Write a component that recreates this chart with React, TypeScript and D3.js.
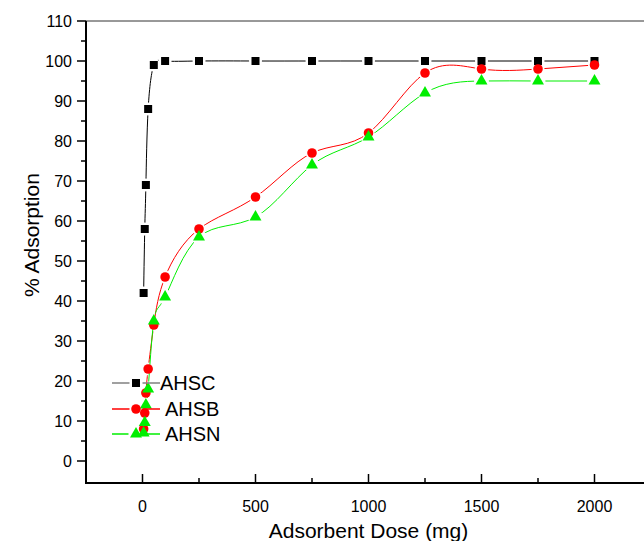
import React from 'react';
import * as d3 from 'd3';

// adsorbent dose (mg) and % adsorption for the three adsorbents
const doses = [5, 10, 15, 25, 50, 100, 250, 500, 750, 1000, 1250, 1500, 1750, 2000];
const ahsc = [42, 58, 69, 88, 99, 100, 100, 100, 100, 100, 100, 100, 100, 100];
const ahsb = [8, 12, 17, 23, 34, 46, 58, 66, 77, 82, 97, 98, 98, 99];
const ahsn = [7, 9.6, 14, 18, 35, 41, 56, 61, 74, 81, 92, 95, 95, 95];

const xMajor = [0, 500, 1000, 1500, 2000];
const xMinor = [250, 750, 1250, 1750];
const yMajor = [0, 10, 20, 30, 40, 50, 60, 70, 80, 90, 100, 110];
const yMinor = [5, 15, 25, 35, 45, 55, 65, 75, 85, 95, 105];

const W = 644;
const H = 541;
const font = 'Arial, "Liberation Sans", Helvetica, sans-serif';

const series = [
  { name: 'AHSC', values: ahsc, color: '#000000', legendLine: '#808080', symbol: d3.symbolSquare, size: 64, gap: 6.5, textX: 160 },
  { name: 'AHSB', values: ahsb, color: '#ff0000', legendLine: '#ff0000', symbol: d3.symbolCircle, size: 72, gap: 6.5, textX: 165 },
  { name: 'AHSN', values: ahsn, color: '#00ee00', legendLine: '#00ee00', symbol: d3.symbolTriangle, size: 62, gap: 7.5, textX: 165 },
];

export default function App() {
  const x = d3.scaleLinear().domain([-250, 2250]).range([86, 651]);
  const y = d3.scaleLinear().domain([-5.5, 110]).range([483, 21]);
  const [x0, x1] = x.range();
  const [yb, yt] = y.range();

  const line = d3
    .line<[number, number]>()
    .x((d) => x(d[0]))
    .y((d) => y(d[1]))
    .curve(d3.curveNatural);

  const legendY = [383, 409, 434];

  return (
    <svg width={W} height={H} style={{ position: 'absolute', left: 0, top: 0, background: '#fff' }} fontFamily={font}>
      <defs>
        {series.map((s, i) => (
          <mask id={`gap-${i}`} key={s.name} maskUnits="userSpaceOnUse" x={0} y={0} width={W} height={H}>
            <rect x={0} y={0} width={W} height={H} fill="#fff" />
            {doses.map((d, j) => (
              <circle key={j} cx={x(d)} cy={y(s.values[j])} r={s.gap} fill="#000" />
            ))}
          </mask>
        ))}
      </defs>

      {/* frame */}
      <line x1={x0} x2={W} y1={yt} y2={yt} stroke="#333" strokeWidth={1} />

      {/* series lines */}
      {series.map((s, i) => (
        <path
          key={s.name}
          d={line(doses.map((d, j) => [d, s.values[j]] as [number, number])) || ''}
          fill="none"
          stroke={s.color}
          strokeWidth={1}
          mask={`url(#gap-${i})`}
        />
      ))}

      {/* markers */}
      {series.map((s) => (
        <g key={s.name} fill={s.color}>
          {doses.map((d, j) => (
            <path
              key={j}
              d={d3.symbol(s.symbol, s.size)() || ''}
              transform={`translate(${x(d)},${y(s.values[j])})`}
            />
          ))}
        </g>
      ))}

      {/* y axis */}
      <line x1={x0} x2={x0} y1={yt} y2={yb} stroke="#000" strokeWidth={2} />
      {yMajor.map((v) => (
        <g key={v}>
          <line x1={x0 - 9} x2={x0} y1={y(v)} y2={y(v)} stroke="#000" strokeWidth={1.5} />
          <text x={x0 - 14} y={y(v)} dy="0.35em" textAnchor="end" fontSize={16} fill="#000">
            {v}
          </text>
        </g>
      ))}
      {yMinor.map((v) => (
        <line key={v} x1={x0 - 5} x2={x0} y1={y(v)} y2={y(v)} stroke="#000" strokeWidth={1.5} />
      ))}
      <text
        transform={`translate(32,235) rotate(-90)`}
        textAnchor="middle"
        dy="0.35em"
        fontSize={21}
        fill="#000"
      >
        % Adsorption
      </text>

      {/* x axis */}
      <line x1={x0 - 1} x2={W} y1={yb} y2={yb} stroke="#000" strokeWidth={2} />
      {xMajor.map((v) => (
        <g key={v}>
          <line x1={x(v)} x2={x(v)} y1={yb} y2={yb - 9} stroke="#000" strokeWidth={1.5} />
          <text x={x(v)} y={512} textAnchor="middle" fontSize={16} fill="#000">
            {v}
          </text>
        </g>
      ))}
      {xMinor.map((v) => (
        <line key={v} x1={x(v)} x2={x(v)} y1={yb} y2={yb - 5} stroke="#000" strokeWidth={1.5} />
      ))}
      <text x={(x0 + x1) / 2} y={538} textAnchor="middle" fontSize={21} fill="#000">
        Adsorbent Dose (mg)
      </text>

      {/* legend */}
      {series.map((s, i) => (
        <g key={s.name}>
          <line x1={112} x2={136 - s.gap} y1={legendY[i]} y2={legendY[i]} stroke={s.legendLine} strokeWidth={1.5} />
          <line x1={136 + s.gap} x2={160} y1={legendY[i]} y2={legendY[i]} stroke={s.legendLine} strokeWidth={1.5} />
          <path d={d3.symbol(s.symbol, s.size)() || ''} transform={`translate(136,${legendY[i]})`} fill={s.color} />
          <text x={s.textX} y={legendY[i]} dy="0.36em" fontSize={20} fill="#000">
            {s.name}
          </text>
        </g>
      ))}
    </svg>
  );
}
